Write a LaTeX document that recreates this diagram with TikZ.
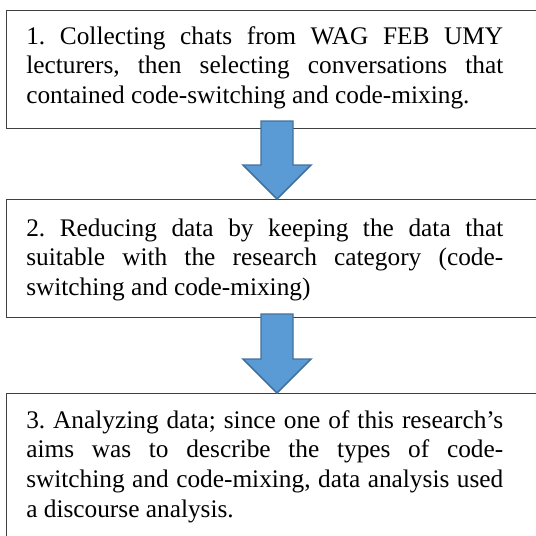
\documentclass[tikz,border=0pt]{standalone}
\usepackage{fontspec}
\setmainfont{Liberation Serif}
\usepackage{tikz}
\usetikzlibrary{calc}
\definecolor{boxedge}{RGB}{64,64,64}
\definecolor{arrowfill}{RGB}{91,155,213}
\definecolor{arrowedge}{RGB}{65,113,156}
\tikzstyle{box}  = [draw=boxedge, line width=1.1pt, rectangle, anchor=north west, inner sep=0pt, minimum width=415.5pt]
\tikzstyle{txt}  = [anchor=base west, inner sep=0pt, text width=357.75pt, align=justify, font=\fontsize{19}{22.4}\selectfont\frenchspacing]
\tikzstyle{flow} = [draw=arrowedge, line width=1.1pt, fill=arrowfill, line join=miter,
  to path={($(\tikztostart)+(-16,0)$) -- ($(\tikztotarget)+(-16,-34)$) -- ($(\tikztotarget)+(-34,-34)$)
    -- (\tikztotarget) -- ($(\tikztotarget)+(34,-34)$) -- ($(\tikztotarget)+(16,-34)$) -- ($(\tikztostart)+(16,0)$) -- cycle}]

\begin{document}
\begin{tikzpicture}[x=0.75pt, y=-0.75pt]
\useasboundingbox (0,0) rectangle (536,536);
\hyphenpenalty=10000

% boxes
\node [box, minimum height=88.5pt] at (   6 ,  10 ) (box1) {};
\node [box, minimum height=88.5pt] at (   6 , 199 ) (box2) {};
\node [box, minimum height=120pt]  at (   6 , 393 ) (box3) {};

% texts
\node [txt] at ( 26 ,  44 ) (step1) {1. Collecting chats from WAG FEB UMY\linebreak lecturers, then selecting conversations that\linebreak contained code-switching and code-mixing.};
\node [txt] at ( 26 , 236 ) (step2) {2. Reducing data by keeping the data that\linebreak suitable with the research category (code-\linebreak switching and code-mixing)};
\node [txt] at ( 26 , 428 ) (step3) {3. Analyzing data; since one of this research's\linebreak aims was to describe the types of code-\linebreak switching and code-mixing, data analysis used\linebreak a discourse analysis.};

% arrows
\coordinate (a1) at ( 277 , 121 );
\coordinate (a2) at ( 277 , 314 );
\coordinate (tip1) at (a1 |- box2.north);
\coordinate (tip2) at (a2 |- box3.north);
\path [flow] (a1) to (tip1);
\path [flow] (a2) to (tip2);

\end{tikzpicture}
\end{document}
